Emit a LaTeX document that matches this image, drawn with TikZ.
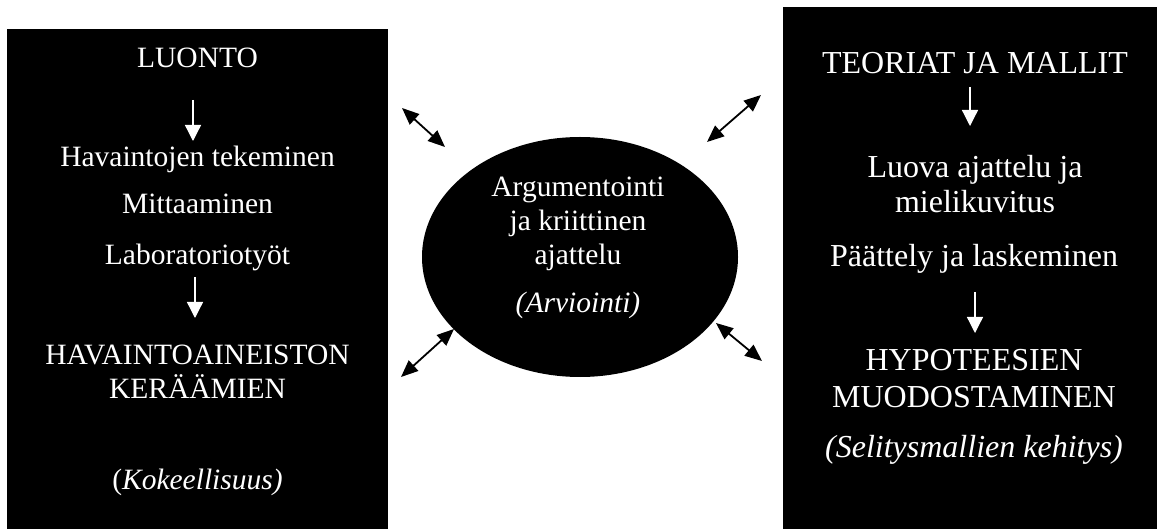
\documentclass[tikz,border=0pt]{standalone}
\usepackage{fontspec}
\setmainfont{Liberation Serif}
\usetikzlibrary{arrows.meta,shapes.geometric}
\begin{document}
\begin{tikzpicture}[x=1pt,y=-1pt,
  bigbox/.style={draw=none,fill=black,rectangle,inner sep=0pt},
  txt/.style={text=white,align=center,anchor=base,inner sep=0pt,font=\fontsize{29.5}{34}\selectfont},
  rtxt/.style={txt,font=\fontsize{32}{36}\selectfont},
  whitearrow/.style={white,line width=1.3pt,-{Triangle[length=16pt,width=16pt]}},
  dbl/.style={black,line width=1.8pt,{Triangle[length=17pt,width=14pt]}-{Triangle[length=17pt,width=14pt]}}]
\useasboundingbox (0,0) rectangle (1157,529);
% boxes
\node[bigbox,minimum width=381pt,minimum height=510pt] (lbox) at (197.5,284) {};
\node[bigbox,minimum width=374pt,minimum height=530pt] (rbox) at (970,272) {};
\node[ellipse,fill=black,draw=none,minimum width=316pt,minimum height=240pt,inner sep=0pt] (ell) at (580,257) {};
% left texts
\node[txt] (luonto) at (197.5,68) {LUONTO};
\node[txt] (hav) at (197.5,167) {Havaintojen tekeminen};
\node[txt] (mitt) at (197.5,214) {Mittaaminen};
\node[txt] (lab) at (197.5,265) {Laboratoriotyöt};
\node[txt] (kera) at (197.5,398) {HAVAINTOAINEISTON\\KERÄÄMIEN};
\node[txt] (kok) at (197.5,489) {(\textit{Kokeellisuus)}};
\coordinate (la1) at (193,100);
\coordinate (la2) at (193,141);
\coordinate (la3) at (195,277);
\coordinate (la4) at (195,318);
\draw[whitearrow] (la1) -- (la2);
\draw[whitearrow] (la3) -- (la4);
% right texts
\node[rtxt] (teor) at (975,74) {TEORIAT JA MALLIT};
\node[rtxt,font=\fontsize{32}{35}\selectfont] (luova) at (975,213) {Luova ajattelu ja\\mielikuvitus};
\node[rtxt] (paat) at (974,267) {Päättely ja laskeminen};
\node[rtxt,font=\fontsize{32}{37}\selectfont] (hyp) at (974,407) {HYPOTEESIEN\\MUODOSTAMINEN};
\node[rtxt] (sel) at (974,457) {\textit{(Selitysmallien kehitys)}};
\coordinate (ra1) at (970,87);
\coordinate (ra2) at (970,126);
\coordinate (ra3) at (975,292);
\coordinate (ra4) at (975,333);
\draw[whitearrow] (ra1) -- (ra2);
\draw[whitearrow] (ra3) -- (ra4);
% ellipse texts
\node[txt] (arg) at (578,265) {Argumentointi\\ja kriittinen\\ajattelu};
\node[txt] (arv) at (578,313) {\textit{(Arviointi)}};
% double arrows
\coordinate (tl1) at (402,108);
\coordinate (tl2) at (445,147);
\coordinate (tr1) at (707,142);
\coordinate (tr2) at (761,95);
\coordinate (bl1) at (401,377);
\coordinate (bl2) at (454,329);
\coordinate (br1) at (716,323);
\coordinate (br2) at (762,361);
\draw[dbl] (tl1) -- (tl2);
\draw[dbl] (tr1) -- (tr2);
\draw[dbl] (bl1) -- (bl2);
\draw[dbl] (br1) -- (br2);
\end{tikzpicture}
\end{document}
